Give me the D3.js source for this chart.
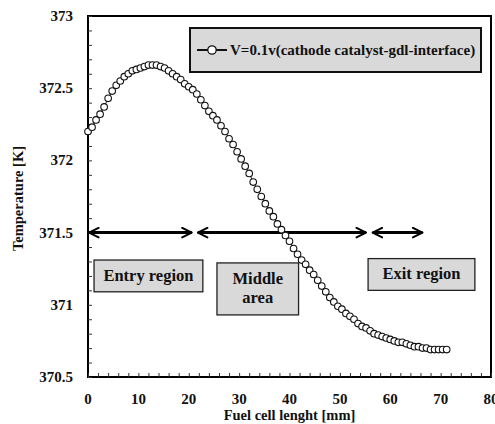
<!DOCTYPE html>
<html>
<head>
<meta charset="utf-8">
<script src="https://cdn.jsdelivr.net/npm/d3@7"></script>
</head>
<body style="margin:0;padding:0;background:#fff">
<svg id="chart" width="495" height="424" style="display:block"></svg>
<script>
// Position along the cell [mm]
const lengthMm = [
  0, 0.8, 1.6, 2.4, 3.2, 4.0, 4.8, 5.6, 6.4, 7.2,
  8.0, 8.8, 9.6, 10.4, 11.2, 12.0, 12.8, 13.6, 14.4, 15.2,
  16.0, 16.8, 17.6, 18.4, 19.2, 20.0, 20.8, 21.6, 22.4, 23.2,
  24.0, 24.8, 25.6, 26.4, 27.2, 28.0, 28.8, 29.6, 30.4, 31.2,
  32.0, 32.8, 33.6, 34.4, 35.2, 36.0, 36.8, 37.6, 38.4, 39.2,
  40.0, 40.8, 41.6, 42.4, 43.2, 44.0, 44.8, 45.6, 46.4, 47.2,
  48.0, 48.8, 49.6, 50.4, 51.2, 52.0, 52.8, 53.6, 54.4, 55.2,
  56.0, 56.8, 57.6, 58.4, 59.2, 60.0, 60.8, 61.6, 62.4, 63.2,
  64.0, 64.8, 65.6, 66.4, 67.2, 68.0, 68.8, 69.6, 70.4, 71.2
];
// Temperature at the cathode catalyst / GDL interface [K]
const temperatureK = [
  372.20, 372.23, 372.28, 372.32, 372.37, 372.43, 372.48, 372.52, 372.55, 372.58,
  372.60, 372.62, 372.63, 372.64, 372.65, 372.66, 372.66, 372.66, 372.65, 372.64,
  372.62, 372.60, 372.58, 372.56, 372.53, 372.51, 372.49, 372.46, 372.42, 372.38,
  372.34, 372.31, 372.28, 372.24, 372.20, 372.15, 372.11, 372.06, 372.01, 371.96,
  371.91, 371.85, 371.80, 371.75, 371.70, 371.65, 371.61, 371.56, 371.52, 371.48,
  371.44, 371.39, 371.35, 371.31, 371.28, 371.24, 371.21, 371.17, 371.13, 371.09,
  371.05, 371.02, 370.99, 370.97, 370.94, 370.92, 370.90, 370.87, 370.85, 370.84,
  370.82, 370.80, 370.79, 370.78, 370.77, 370.76, 370.75, 370.74, 370.74, 370.73,
  370.72, 370.71, 370.71, 370.70, 370.70, 370.69, 370.69, 370.69, 370.69, 370.69
];
const xTicks = [0, 10, 20, 30, 40, 50, 60, 70, 80];
const yTicks = [370.5, 371, 371.5, 372, 372.5, 373];
const legendLabel = "V=0.1v(cathode catalyst-gdl-interface)";
// Region spans drawn as double-headed arrows at T = 371.5 K
const regionSpans = [[0, 20.8], [21.6, 55.4], [56.3, 66.6]];
const regionArrowT = 371.5;
// Region label boxes: [x0, x1] in mm, [Ttop, Tbottom] in K, text lines
const regionBoxes = [
  { x: [1.2, 22.8], t: [371.31, 371.09], lines: ["Entry region"] },
  { x: [25.6, 41.8], t: [371.29, 370.93], lines: ["Middle", "area"] },
  { x: [55.6, 76.8], t: [371.32, 371.10], lines: ["Exit region"] }
];

const FONT = "Liberation Serif";
const svg = d3.select("#chart");
const m = { left: 88, right: 491, top: 16, bottom: 377 };

const x = d3.scaleLinear().domain([0, 80]).range([m.left, m.right]);
const y = d3.scaleLinear().domain([370.5, 373]).range([m.bottom, m.top]);

// Frame
svg.append("rect")
  .attr("x", m.left).attr("y", m.top)
  .attr("width", m.right - m.left).attr("height", m.bottom - m.top)
  .attr("fill", "none").attr("stroke", "#000").attr("stroke-width", 2);

// Axes with inward ticks
const xAxis = svg.append("g").attr("transform", `translate(0,${m.bottom})`)
  .call(d3.axisBottom(x).tickValues(d3.range(0, 81, 2)).tickSize(-4).tickFormat(""));
xAxis.select(".domain").remove();
xAxis.selectAll("line").attr("stroke", "#333");

const yAxis = svg.append("g").attr("transform", `translate(${m.left},0)`)
  .call(d3.axisLeft(y).tickValues(d3.range(0, 26).map(i => 370.5 + i * 0.1)).tickSize(-4).tickFormat(""));
yAxis.select(".domain").remove();
yAxis.selectAll("line").attr("stroke", "#333");

// Tick labels
svg.append("g").selectAll("text").data(xTicks).join("text")
  .attr("x", d => x(d)).attr("y", 404)
  .attr("text-anchor", "middle").attr("font-size", 15).attr("fill", "#111")
  .text(d => d);
svg.append("g").selectAll("text").data(yTicks).join("text")
  .attr("x", 73).attr("y", d => y(d) + 5)
  .attr("text-anchor", "end").attr("font-size", 15).attr("fill", "#111")
  .text(d => d);

// Axis titles
svg.append("text")
  .attr("x", x(40)).attr("y", 420)
  .attr("text-anchor", "middle").attr("font-size", 14.5).attr("fill", "#111")
  .text("Fuel cell lenght [mm]");
svg.append("text")
  .attr("transform", `translate(23,${(m.top + m.bottom) / 2 + 2}) rotate(-90)`)
  .attr("text-anchor", "middle").attr("font-size", 14.5).attr("fill", "#111")
  .text("Temperature [K]");

// Region arrows
const defs = svg.append("defs");
defs.append("marker").attr("id", "head")
  .attr("viewBox", "0 0 10 10").attr("refX", 9).attr("refY", 5)
  .attr("markerWidth", 4).attr("markerHeight", 4).attr("markerUnits", "strokeWidth")
  .attr("orient", "auto-start-reverse")
  .append("path").attr("d", "M1,1 L9,5 L1,9")
  .attr("fill", "none").attr("stroke", "#000").attr("stroke-width", 1.6)
  .attr("stroke-linecap", "round").attr("stroke-linejoin", "round");

svg.append("g").selectAll("line").data(regionSpans).join("line")
  .attr("x1", d => x(d[0]) + 1).attr("x2", d => x(d[1]) - 1)
  .attr("y1", y(regionArrowT)).attr("y2", y(regionArrowT))
  .attr("stroke", "#000").attr("stroke-width", 3)
  .attr("marker-start", "url(#head)").attr("marker-end", "url(#head)");

// Data line and markers
const line = d3.line().x((d, i) => x(lengthMm[i])).y(d => y(d));
svg.append("path").datum(temperatureK)
  .attr("d", line).attr("fill", "none").attr("stroke", "#222").attr("stroke-width", 1);
svg.append("g").selectAll("circle").data(temperatureK).join("circle")
  .attr("cx", (d, i) => x(lengthMm[i])).attr("cy", d => y(d)).attr("r", 3.3)
  .attr("fill", "#fff").attr("stroke", "#111").attr("stroke-width", 1.1);

// Region label boxes
const boxes = svg.append("g").selectAll("g").data(regionBoxes).join("g");
boxes.append("rect")
  .attr("x", d => x(d.x[0])).attr("y", d => y(d.t[0]))
  .attr("width", d => x(d.x[1]) - x(d.x[0])).attr("height", d => y(d.t[1]) - y(d.t[0]))
  .attr("fill", "#d9d9d9").attr("stroke", "#222").attr("stroke-width", 1.3);
boxes.each(function(d) {
  const g = d3.select(this);
  const cx = (x(d.x[0]) + x(d.x[1])) / 2;
  const cy = (y(d.t[0]) + y(d.t[1])) / 2;
  const lh = 19;
  d.lines.forEach((s, i) => {
    g.append("text")
      .attr("x", cx).attr("y", cy + (i - (d.lines.length - 1) / 2) * lh + 5)
      .attr("text-anchor", "middle").attr("font-size", 16.5).attr("fill", "#111")
      .text(s);
  });
});

// Legend
const lg = svg.append("g");
lg.append("rect").attr("x", 190).attr("y", 28).attr("width", 291).attr("height", 44)
  .attr("fill", "#d9d9d9").attr("stroke", "#111").attr("stroke-width", 2);
lg.append("line").attr("x1", 197).attr("x2", 227).attr("y1", 50).attr("y2", 50)
  .attr("stroke", "#111").attr("stroke-width", 2);
lg.append("circle").attr("cx", 212).attr("cy", 50).attr("r", 4.2)
  .attr("fill", "#fff").attr("stroke", "#111").attr("stroke-width", 1.3);
lg.append("text").attr("x", 230).attr("y", 55).attr("font-size", 15).attr("fill", "#111")
  .text(legendLabel);

// Every label uses the bold serif face
svg.selectAll("text").attr("font-family", FONT).attr("font-weight", "bold");
</script>
</body>
</html>
